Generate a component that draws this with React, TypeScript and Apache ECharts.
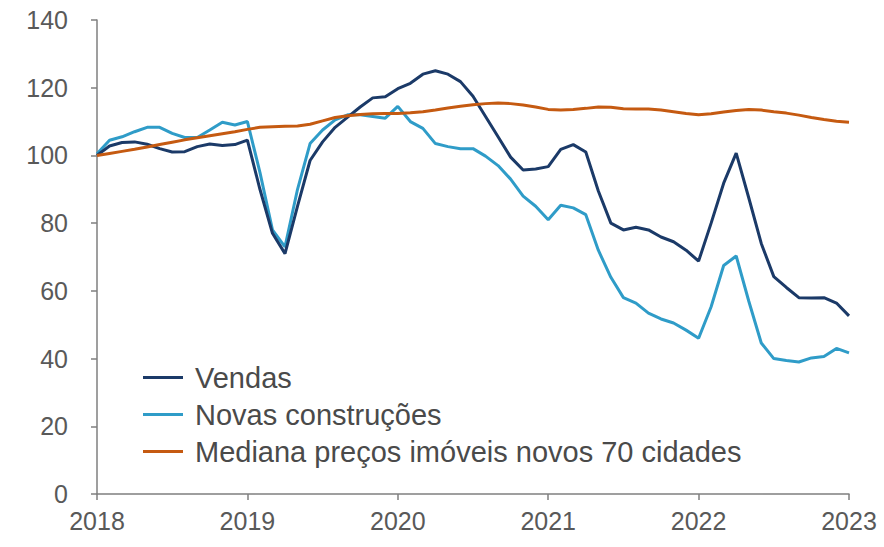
import React, { useEffect, useRef } from "react";
import * as echarts from "echarts";

const yearLabels = ["2018", "2019", "2020", "2021", "2022", "2023"];

// monthly categories Jan 2018 .. Jan 2023
const months: string[] = [];
for (let y = 2018; y <= 2023; y++) {
  for (let m = 1; m <= 12; m++) {
    if (y === 2023 && m > 1) break;
    months.push(`${y}-${String(m).padStart(2, "0")}`);
  }
}

const vendas = [
  100, 102.8, 103.8, 104, 103.3, 102, 101, 101.1, 102.6, 103.4, 102.9, 103.2,
  104.5, 90, 77, 71, 85, 98.5, 104, 108.3, 111.3, 114.3, 117, 117.3,
  119.7, 121.3, 124, 125, 124, 121.8, 117.5, 111.5, 105.5, 99.5, 95.7, 96,
  96.7, 101.8, 103.2, 101, 89.5, 80, 78, 78.8, 78, 75.9, 74.5, 72,
  68.8, 80, 91.8, 100.7, 87.5, 74, 64.2, 61, 58, 57.9, 58, 56.4,
  52.6,
];

const novasConstrucoes = [
  100.5, 104.5, 105.5, 107, 108.3, 108.3, 106.5, 105.3, 105.3, 107.5, 109.8, 109,
  110, 95, 78, 73, 90, 103.5, 107.5, 110.5, 112, 112, 111.5, 111,
  114.5, 110, 108, 103.5, 102.6, 102, 102, 99.8, 97, 93, 88, 85,
  81, 85.3, 84.5, 82.5, 72, 64, 58, 56.4, 53.4, 51.7, 50.5, 48.4,
  46, 55.3, 67.5, 70.3, 57, 44.6, 40, 39.4, 39, 40.2, 40.6, 43,
  41.7,
];

const mediana = [
  100, 100.6, 101.2, 101.8, 102.5, 103.2, 103.9, 104.6, 105.2, 105.8, 106.4, 107,
  107.7, 108.3, 108.5, 108.6, 108.7, 109.2, 110.2, 111.2, 111.7, 112.1, 112.3, 112.4,
  112.4, 112.6, 112.9, 113.4, 114, 114.5, 115, 115.3, 115.5, 115.3, 114.9, 114.3,
  113.6, 113.4, 113.6, 113.9, 114.3, 114.2, 113.8, 113.7, 113.7, 113.4, 112.9, 112.4,
  112, 112.3, 112.8, 113.3, 113.6, 113.4, 112.9, 112.5, 111.9, 111.2, 110.6, 110.1,
  109.8,
];

const seriesNames = [
  "Vendas",
  "Novas construções",
  "Mediana preços imóveis novos 70 cidades",
];
const colors = ["#1B3A68", "#2F9CC8", "#C55A11"];

export default function App() {
  const ref = useRef<HTMLDivElement>(null);
  useEffect(() => {
    if (!ref.current) return;
    const chart = echarts.init(ref.current, null, { renderer: "svg" });
    const font = "'Liberation Sans', Arial, sans-serif";
    const isYear = (i: number) => i % 12 === 0;
    chart.setOption({
      animation: false,
      backgroundColor: "#ffffff",
      grid: { left: 97, right: 35, top: 20, bottom: 53, containLabel: false },
      legend: {
        orient: "vertical",
        left: 138,
        top: 357,
        icon: "rect",
        itemWidth: 40,
        itemHeight: 3,
        itemGap: 6,
        data: seriesNames,
        textStyle: {
          fontFamily: font,
          fontSize: 29,
          color: "#4a4a4a",
          lineHeight: 31,
          padding: [0, 0, 0, 7],
        },
      },
      xAxis: {
        type: "category",
        data: months,
        boundaryGap: false,
        axisLine: { lineStyle: { color: "#7f7f7f", width: 1.5 } },
        axisTick: {
          show: true,
          interval: (i: number) => isYear(i),
          length: 6,
          lineStyle: { color: "#7f7f7f", width: 1.5 },
        },
        axisLabel: {
          interval: (i: number) => isYear(i),
          formatter: (v: string) => {
            const y = v.slice(0, 4);
            return yearLabels.includes(y) ? y : "";
          },
          fontFamily: font,
          fontSize: 25,
          color: "#595959",
          margin: 14,
        },
        splitLine: { show: false },
      },
      yAxis: {
        type: "value",
        min: 0,
        max: 140,
        interval: 20,
        axisLine: { show: true, lineStyle: { color: "#7f7f7f", width: 1.5 } },
        axisTick: { show: true, length: 6, lineStyle: { color: "#7f7f7f", width: 1.5 } },
        axisLabel: {
          fontFamily: font,
          fontSize: 25,
          color: "#595959",
          margin: 29,
        },
        splitLine: { show: false },
      },
      series: [
        {
          name: seriesNames[0],
          type: "line",
          data: vendas,
          symbol: "none",
          lineStyle: { color: colors[0], width: 3 },
          itemStyle: { color: colors[0] },
          z: 3,
        },
        {
          name: seriesNames[1],
          type: "line",
          data: novasConstrucoes,
          symbol: "none",
          lineStyle: { color: colors[1], width: 3 },
          itemStyle: { color: colors[1] },
          z: 2,
        },
        {
          name: seriesNames[2],
          type: "line",
          data: mediana,
          symbol: "none",
          lineStyle: { color: colors[2], width: 3 },
          itemStyle: { color: colors[2] },
          z: 4,
        },
      ],
    });
    return () => chart.dispose();
  }, []);
  return (
    <div
      ref={ref}
      style={{ position: "fixed", left: 0, top: 0, width: 884, height: 547 }}
    />
  );
}
